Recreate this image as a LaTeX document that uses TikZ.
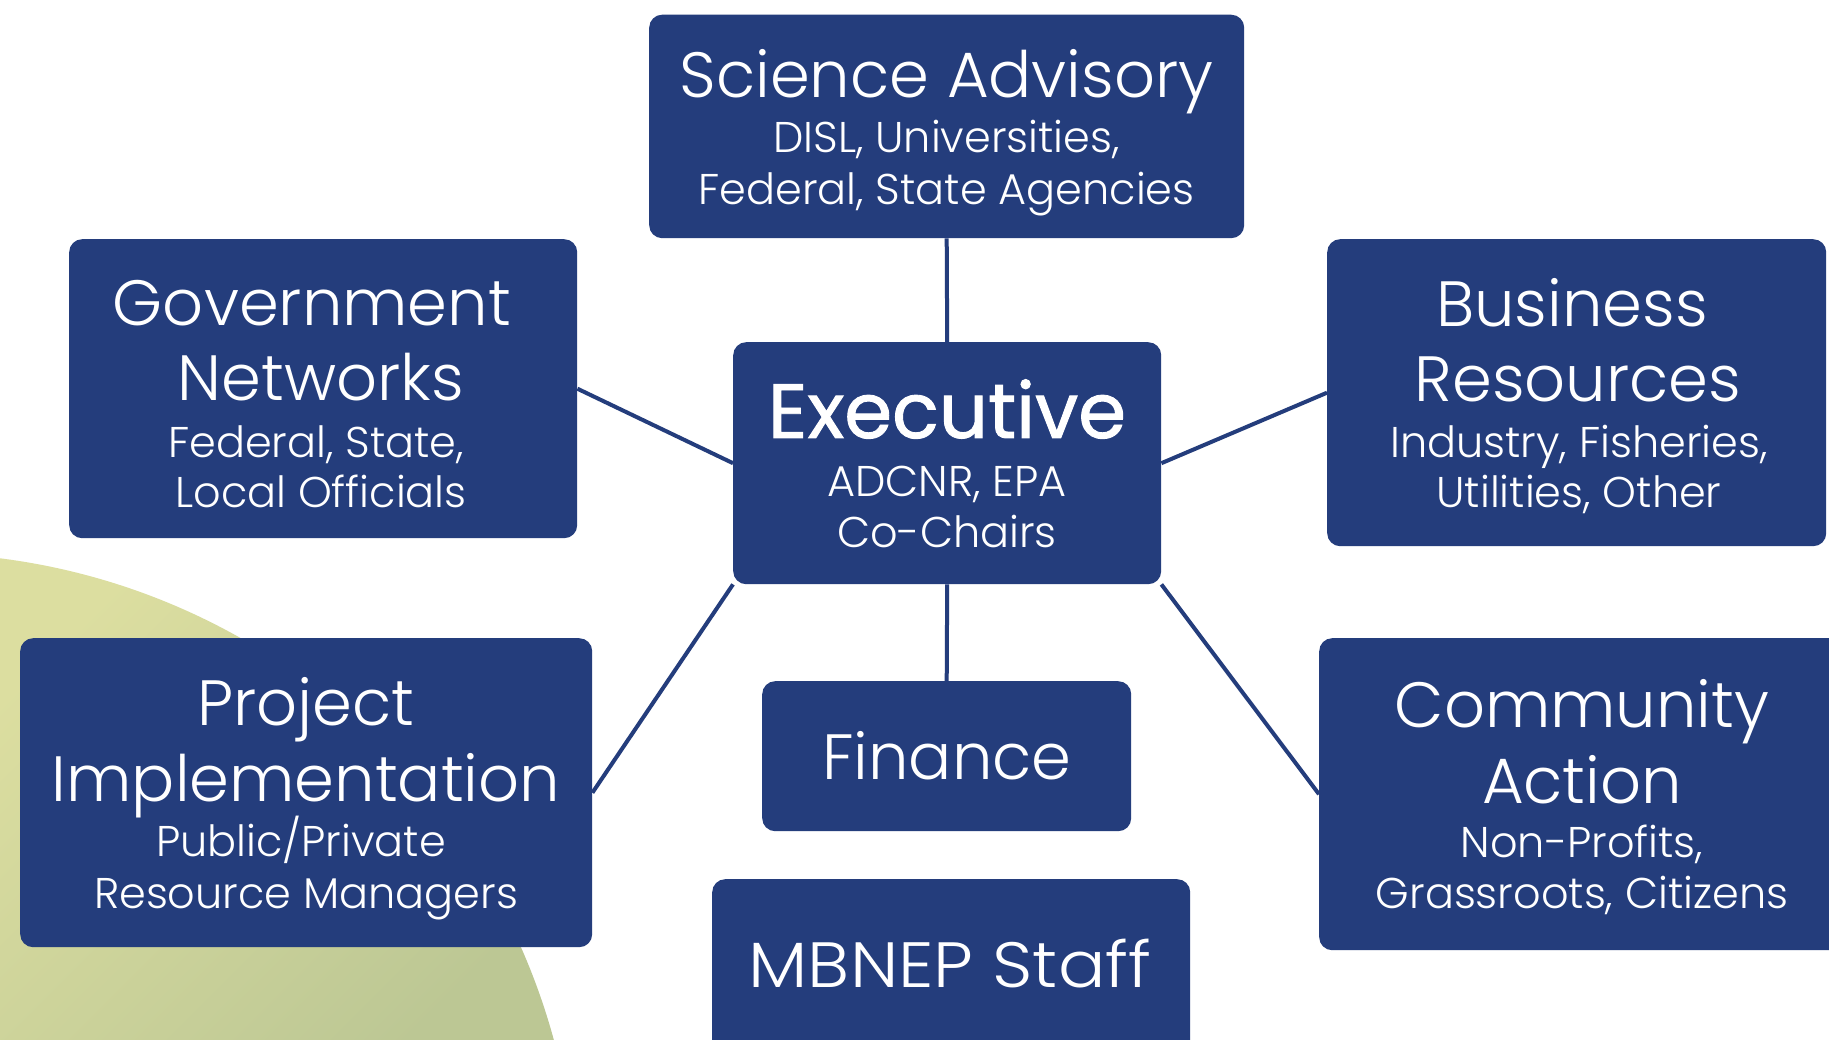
\documentclass[tikz,border=0pt]{standalone}
\usepackage{fontspec}
\setmainfont{Poppins}[UprightFont={* Light}]
\newfontfamily\execfont{Poppins}[FakeBold=1.2]
\definecolor{navy}{RGB}{36,61,124}
\definecolor{greenA}{RGB}{220,222,160}
\definecolor{greenB}{RGB}{188,199,148}
\tikzset{
  box/.style={fill=navy, rounded corners=13pt, inner sep=0pt, anchor=north west},
  ttl/.style={text=white, anchor=base, inner sep=0pt, font=\fontsize{64}{75}\selectfont},
  subt/.style={text=white, anchor=base, inner sep=0pt, font=\fontsize{43}{50}\selectfont},
  exttl/.style={text=white, anchor=base, inner sep=0pt, font=\execfont\fontsize{77}{90}\selectfont},
  link/.style={draw=navy, line width=4pt},
}
\begin{document}
\begin{tikzpicture}[x=1pt,y=-1pt]
\useasboundingbox (0,0) rectangle (1829,1040);
\clip (0,0) rectangle (1829,1040);
\fill[white] (0,0) rectangle (1829,1040);
% green disc
\begin{scope}
  \clip (-84,1214) circle (661pt);
  \shade[top color=greenA, bottom color=greenB, shading angle=45] (0,540) rectangle (570,1040);
\end{scope}
% boxes
\node[box, minimum width=595pt, minimum height=223.5pt] (sci) at (649,14.5) {};
\node[box, minimum width=508pt, minimum height=299pt] (gov) at (69,239) {};
\node[box, minimum width=428pt, minimum height=242pt] (exec) at (733,342) {};
\node[box, minimum width=499pt, minimum height=307pt] (bus) at (1327,239) {};
\node[box, minimum width=572pt, minimum height=309pt] (proj) at (20,638) {};
\node[box, minimum width=369pt, minimum height=150pt] (fin) at (762,681) {};
\node[box, minimum width=526pt, minimum height=312pt] (comm) at (1319,638) {};
\node[box, minimum width=478pt, minimum height=200pt] (staff) at (712,879) {};
% connectors
\draw[link] (sci.south) -- (exec.north);
\draw[link] (gov.east) -- (exec.west);
\draw[link] (bus.west) -- (exec.east);
\draw[link] (proj.east) -- (exec.south west);
\draw[link] (comm.west) -- (exec.south east);
\draw[link] (exec.south) -- (fin.north);
% texts
\node[ttl]  (sciA) at (946.5,97.6) {Science Advisory};
\node[subt] (sciB) at (946.5,153) {DISL, Universities,};
\node[subt] (sciC) at (946.5,205) {Federal, State Agencies};
\node[ttl]  (govA) at (312,326) {Government};
\node[ttl]  (govB) at (321,401) {Networks};
\node[subt] (govC) at (316,457) {Federal, State,};
\node[subt] (govD) at (321,507) {Local Officials};
\node[exttl] (exA) at (947,438) {Executive};
\node[subt] (exB) at (947,496) {ADCNR, EPA};
\node[subt] (exC) at (947,547) {Co-Chairs};
\node[ttl]  (busA) at (1572,327) {Business};
\node[ttl]  (busB) at (1578,402) {Resources};
\node[subt] (busC) at (1579,457) {Industry, Fisheries,};
\node[subt] (busD) at (1579,507) {Utilities, Other};
\node[ttl]  (prA) at (306,725.5) {Project};
\node[ttl]  (prB) at (306,801) {Implementation};
\node[subt] (prC) at (301,856) {Public/Private};
\node[subt] (prD) at (306,908) {Resource Managers};
\node[ttl]  (finA) at (947,779) {Finance};
\node[ttl]  (coA) at (1582,727) {Community};
\node[ttl]  (coB) at (1582,803) {Action};
\node[subt] (coC) at (1582,857) {Non-Profits,};
\node[subt] (coD) at (1582,908) {Grassroots, Citizens};
\node[ttl]  (stA) at (950,987) {\scalebox{1.1}[1]{MBNEP Staff}};
\end{tikzpicture}
\end{document}
